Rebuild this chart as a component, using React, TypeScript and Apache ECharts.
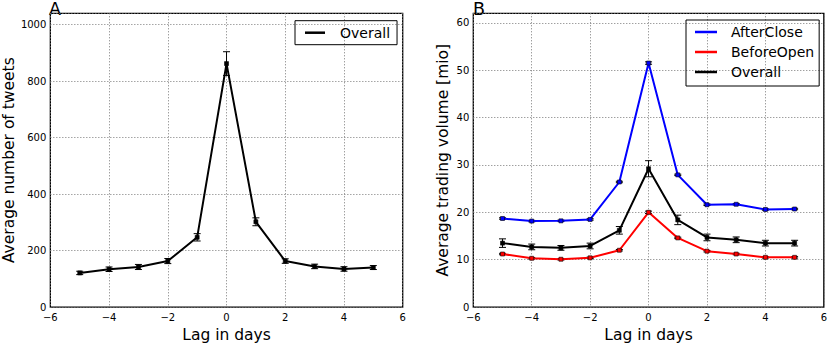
import React, { useEffect, useRef } from "react";
import * as echarts from "echarts";

const lags = [-5, -4, -3, -2, -1, 0, 1, 2, 3, 4, 5];
const tweetsOverall = [121, 134, 142, 163, 247, 862, 302, 163, 144, 135, 140];
const tweetsErr = [6, 8, 9, 9, 13, 42, 14, 8, 8, 8, 7];
const volAfterClose = [18.7, 18.15, 18.2, 18.5, 26.4, 51.5, 27.9, 21.6, 21.7, 20.6, 20.7];
const volBeforeOpen = [11.2, 10.3, 10.1, 10.4, 12.0, 20.0, 14.6, 11.8, 11.2, 10.5, 10.5];
const volOverall = [13.5, 12.7, 12.5, 12.9, 16.2, 29.2, 18.4, 14.7, 14.2, 13.5, 13.5];
const volOverallErr = [0.9, 0.6, 0.5, 0.6, 0.8, 1.7, 1.0, 0.7, 0.6, 0.6, 0.6];
const volSmallErr = [0.15, 0.15, 0.15, 0.15, 0.15, 0.25, 0.15, 0.15, 0.15, 0.15, 0.15];

const FONT = "DejaVu Sans";

const fmtX = (v: number) => (v < 0 ? "\u2212" + Math.abs(v) : String(v));

function pairs(ys: number[]) {
  return lags.map((x, i) => [x, ys[i]]);
}
function errData(ys: number[], es: number[]) {
  return lags.map((x, i) => [x, ys[i], es[i]]);
}

function errSeries(name: string, xi: number, ys: number[], es: number[], color: string) {
  return {
    type: "custom",
    name: name + "-err",
    xAxisIndex: xi,
    yAxisIndex: xi,
    data: errData(ys, es),
    silent: true,
    z: 3,
    renderItem: (_p: any, api: any) => {
      const x = api.value(0);
      const y = api.value(1);
      const e = api.value(2);
      const top = api.coord([x, y + e]);
      const bot = api.coord([x, y - e]);
      const w = 3.5;
      const st = { stroke: color, lineWidth: 1 };
      return {
        type: "group",
        children: [
          { type: "line", shape: { x1: top[0], y1: top[1], x2: bot[0], y2: bot[1] }, style: st },
          { type: "line", shape: { x1: top[0] - w, y1: top[1], x2: top[0] + w, y2: top[1] }, style: st },
          { type: "line", shape: { x1: bot[0] - w, y1: bot[1], x2: bot[0] + w, y2: bot[1] }, style: st },
        ],
      };
    },
  };
}

function lineSeries(name: string, xi: number, ys: number[], color: string) {
  return {
    type: "line",
    name,
    xAxisIndex: xi,
    yAxisIndex: xi,
    data: pairs(ys),
    symbol: "rect",
    symbolSize: 4,
    showSymbol: true,
    z: 4,
    lineStyle: { color, width: 2 },
    itemStyle: { color, borderColor: "#000", borderWidth: 0.6 },
  };
}

const splitLine = { show: true, lineStyle: { color: "#777", width: 1, type: [1, 2] } };

function xAxisCfg(gi: number) {
  return {
    type: "value",
    gridIndex: gi,
    min: -6,
    max: 6,
    interval: 2,
    name: "Lag in days",
    nameLocation: "middle",
    nameGap: 17,
    nameTextStyle: { fontFamily: FONT, fontSize: 15.5, color: "#000" },
    axisLine: { show: false },
    axisTick: { show: false },
    axisLabel: { fontFamily: FONT, fontSize: 10, color: "#000", margin: 5, formatter: fmtX },
    splitLine,
  };
}

function yAxisCfg(gi: number, max: number, interval: number, name: string, gap: number) {
  return {
    type: "value",
    gridIndex: gi,
    min: 0,
    max,
    interval,
    name,
    nameLocation: "middle",
    nameGap: gap,
    nameTextStyle: { fontFamily: FONT, fontSize: 15.5, color: "#000" },
    axisLine: { show: false },
    axisTick: { show: false },
    axisLabel: {
      fontFamily: FONT,
      fontSize: 10,
      color: "#000",
      margin: 4,
      formatter: (v: number) => (Math.abs(v % interval) < 1e-9 ? String(v) : ""),
    },
    splitLine,
  };
}

export default function App() {
  const ref = useRef<HTMLDivElement>(null);
  useEffect(() => {
    if (!ref.current) return;
    const chart = echarts.init(ref.current, null, { renderer: "svg" });
    const gridBase = { show: true, borderColor: "#000", borderWidth: 1.3, backgroundColor: "transparent", containLabel: false };
    const legendBase = {
      orient: "vertical",
      icon: "rect",
      itemHeight: 2.5,
      borderColor: "#000",
      borderWidth: 1,
      borderRadius: 0,
      selectedMode: false,
      itemStyle: { borderWidth: 0 },
      lineStyle: { width: 0 },
    };
    chart.setOption({
      animation: false,
      textStyle: { fontFamily: FONT },
      grid: [
        { ...gridBase, left: 49.3, right: 427.3, top: 13.3, bottom: 34 },
        { ...gridBase, left: 473.3, right: 3.7, top: 13.3, bottom: 34 },
      ],
      xAxis: [xAxisCfg(0), xAxisCfg(1)],
      yAxis: [
        yAxisCfg(0, 1040, 200, "Average number of tweets", 30),
        yAxisCfg(1, 62, 10, "Average trading volume [mio]", 22),
      ],
      legend: [
        {
          ...legendBase,
          data: ["Overall"],
          left: 295,
          top: 20.7,
          itemWidth: 20,
          padding: [5, 7, 5, 10],
          textStyle: { fontFamily: FONT, fontSize: 14, color: "#000", lineHeight: 14, padding: [0, 0, 0, 10] },
        },
        {
          ...legendBase,
          data: ["AfterClose", "BeforeOpen", "Overall"],
          left: 686,
          top: 20,
          itemWidth: 22,
          itemGap: 6,
          padding: [5, 5, 7, 9],
          textStyle: { fontFamily: FONT, fontSize: 14, color: "#000", lineHeight: 14, padding: [0, 0, 0, 9] },
        },
      ],
      graphic: [
        { type: "text", left: 49, top: 0, style: { text: "A", fontFamily: FONT, fontSize: 17.5, fill: "#000" } },
        { type: "text", left: 473, top: 0, style: { text: "B", fontFamily: FONT, fontSize: 17.5, fill: "#000" } },
      ],
      series: [
        errSeries("Overall", 0, tweetsOverall, tweetsErr, "#000"),
        lineSeries("Overall", 0, tweetsOverall, "#000"),
        errSeries("AfterClose", 1, volAfterClose, volSmallErr, "#000"),
        lineSeries("AfterClose", 1, volAfterClose, "#0000ff"),
        errSeries("BeforeOpen", 1, volBeforeOpen, volSmallErr, "#000"),
        lineSeries("BeforeOpen", 1, volBeforeOpen, "#ff0000"),
        errSeries("Overall", 1, volOverall, volOverallErr, "#000"),
        lineSeries("Overall", 1, volOverall, "#000"),
      ],
    });
    return () => chart.dispose();
  }, []);
  return (
    <div
      ref={ref}
      style={{ position: "fixed", left: 0, top: 0, width: 830, height: 348, background: "#fff" }}
    />
  );
}
